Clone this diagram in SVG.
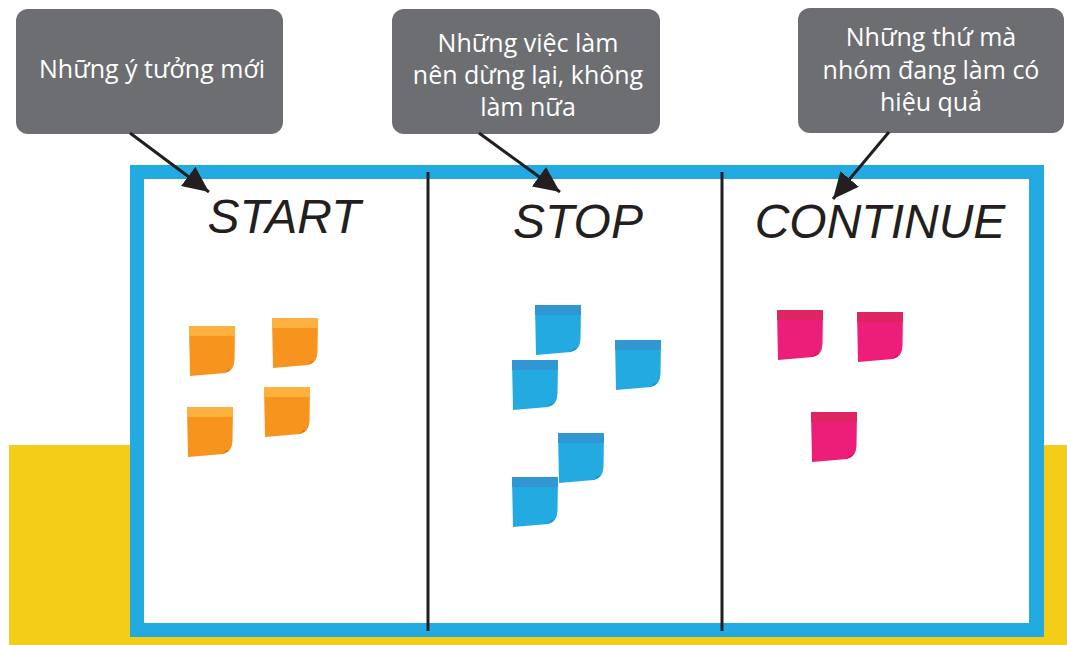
<svg xmlns="http://www.w3.org/2000/svg" width="1067" height="645" viewBox="0 0 1067 645">
<style>
.box{fill:#6d6e71}
.lbl{font-family:"Open Sans","Liberation Sans",sans-serif;font-size:25px;fill:#ffffff;text-anchor:middle}
.title{font-family:"Liberation Sans",Arial,sans-serif;font-style:italic;font-size:48px;fill:#231f20;text-anchor:middle}
.div{stroke:#231f20;stroke-width:3}
.conn{stroke:#231f20;stroke-width:3;fill:none}
.o{--body:#f7941d;--band:#fbb040;--curl:#d2761c}
.b{--body:#22aae1;--band:#3097d3;--curl:#1b8dc6}
.p{--body:#ed1e79;--band:#de2562;--curl:#c3165f}
.nb{fill:var(--body)}
.nd{fill:var(--band)}
.nc{fill:var(--curl)}
</style>
<defs>
<marker id="ah" markerUnits="userSpaceOnUse" markerWidth="28" markerHeight="26" refX="26" refY="12" orient="auto">
<path d="M0,0 L26,12 L0,24 Z" fill="#231f20"/>
</marker>
<g id="note">
<path class="nb" style="fill:var(--body)" d="M0,0 H46 L45.5,34 Q45,45 36,47 L1,50 Z"/>
<rect class="nd" style="fill:var(--band)" x="0" y="0" width="46" height="10"/>
<path class="nc" style="fill:var(--curl)" d="M33,47.3 Q42,46 44.5,39 Q43,44 38.5,43.5 Q38,46 33,47.3 Z"/>
</g>
</defs>
<rect x="0" y="0" width="1067" height="645" fill="#ffffff"/>
<rect id="yellow-band" x="9" y="445" width="1058" height="200" fill="#f4cd19"/>
<g id="board">
<rect x="130" y="165" width="914" height="472" fill="#22aae1"/>
<rect x="144" y="179" width="885" height="444" fill="#ffffff"/>
<line class="div" x1="428" y1="172" x2="428" y2="631"/>
<line class="div" x1="722" y1="172" x2="722" y2="631"/>
</g>
<g id="start-col">
<text class="title" x="284" y="233">START</text>
<g class="o">
<use href="#note" x="189" y="326"/>
<use href="#note" x="272" y="318"/>
<use href="#note" x="187" y="407"/>
<use href="#note" x="264" y="387"/>
</g>
</g>
<g id="stop-col">
<text class="title" x="578" y="238">STOP</text>
<g class="b">
<use href="#note" x="535" y="305"/>
<use href="#note" x="512" y="360"/>
<use href="#note" x="615" y="340"/>
<use href="#note" x="558" y="433"/>
<use href="#note" x="512" y="477"/>
</g>
</g>
<g id="continue-col">
<text class="title" x="880" y="238">CONTINUE</text>
<g class="p">
<use href="#note" x="777" y="310"/>
<use href="#note" x="857" y="312"/>
<use href="#note" x="811" y="412"/>
</g>
</g>
<g id="callout-start">
<rect class="box" x="16" y="9" width="267" height="125" rx="12"/>
<text class="lbl" x="152" y="78">Những ý tưởng mới</text>
</g>
<g id="callout-stop">
<rect class="box" x="392" y="9" width="268" height="125" rx="12"/>
<text class="lbl" x="528" y="52">Những việc làm</text>
<text class="lbl" x="528" y="84">nên dừng lại, không</text>
<text class="lbl" x="528" y="116">làm nữa</text>
</g>
<g id="callout-continue">
<rect class="box" x="798" y="8" width="266" height="125" rx="12"/>
<text class="lbl" x="931" y="46">Những thứ mà</text>
<text class="lbl" x="931" y="79">nhóm đang làm có</text>
<text class="lbl" x="931" y="111">hiệu quả</text>
</g>
<g id="connectors">
<line class="conn" x1="130" y1="133" x2="209" y2="192" marker-end="url(#ah)"/>
<line class="conn" x1="479" y1="133" x2="560" y2="192" marker-end="url(#ah)"/>
<line class="conn" x1="889" y1="132" x2="833" y2="199" marker-end="url(#ah)"/>
</g>
</svg>
